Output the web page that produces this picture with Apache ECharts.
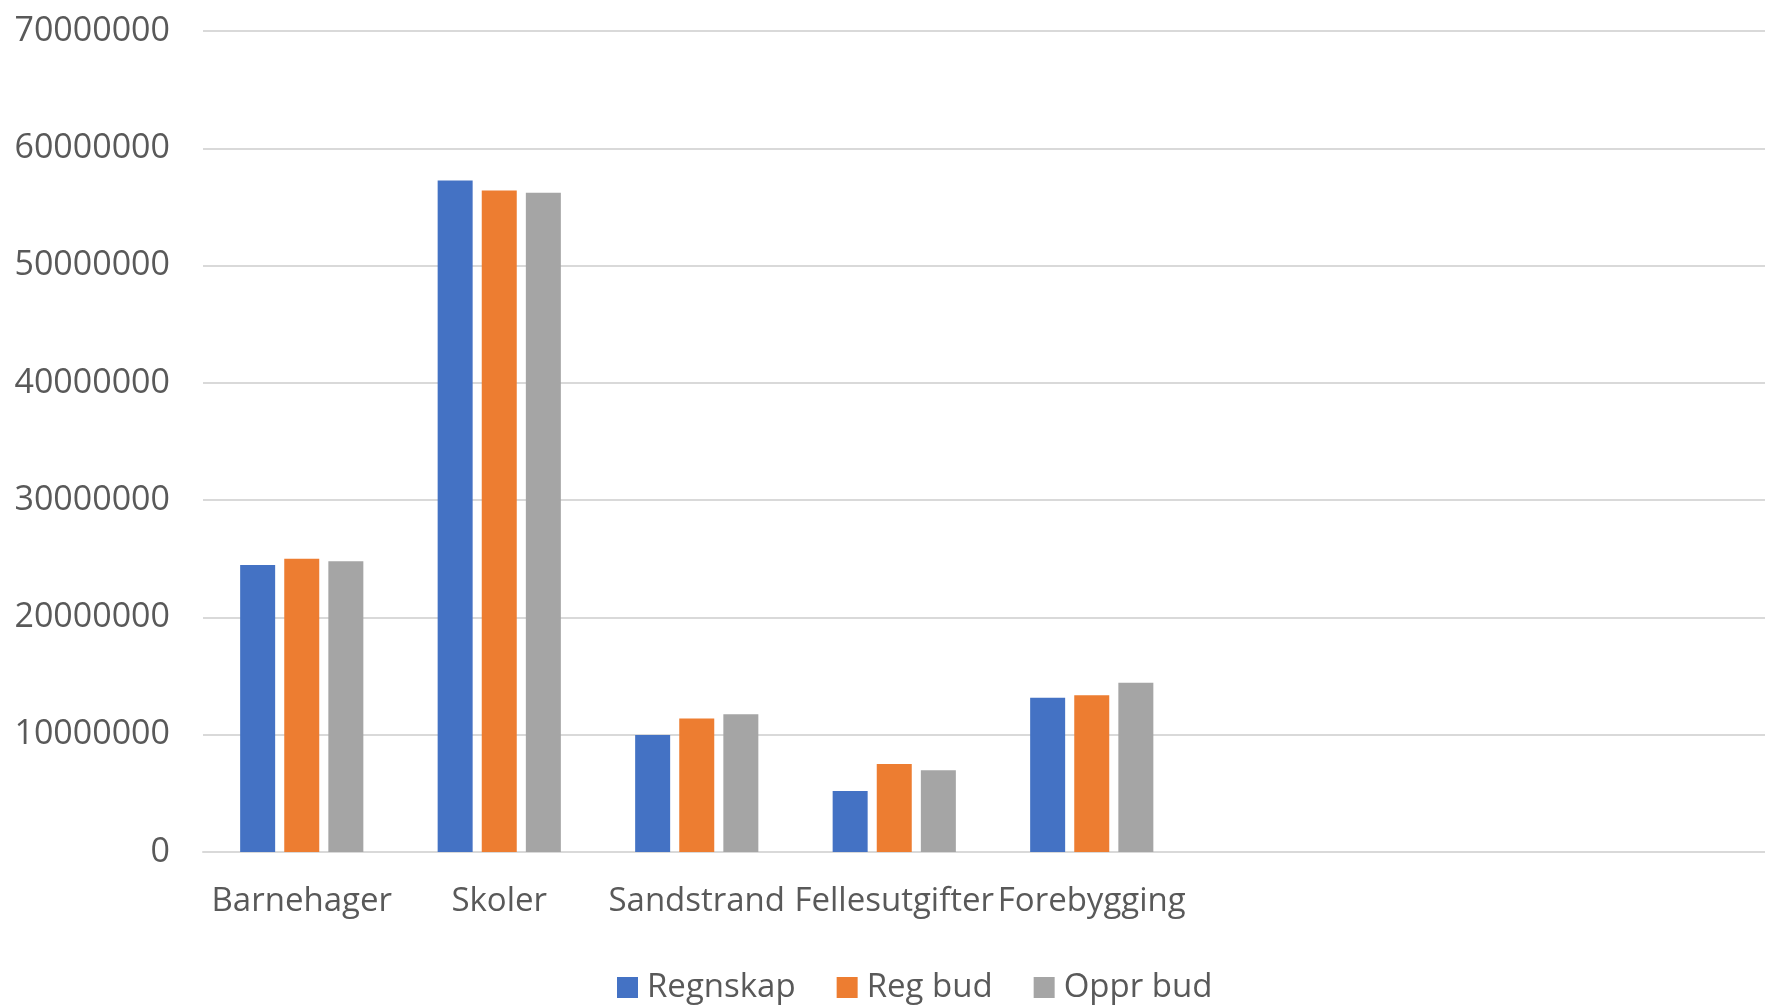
<!DOCTYPE html>
<html>
<head>
<meta charset="utf-8">
<script src="https://cdn.jsdelivr.net/npm/echarts@6/dist/echarts.min.js"></script>
<style>
  html, body { margin: 0; padding: 0; background: #ffffff; overflow: hidden; }
  #chart { width: 1765px; height: 1006px; }
</style>
</head>
<body>
<div id="chart"></div>
<script>
// Categories (the last three slots are unused columns in the sheet)
const categories = ['Barnehager', 'Skoler', 'Sandstrand', 'Fellesutgifter', 'Forebygging', '', '', ''];

// Amounts per area
const regnskap = [24470000, 57250000, 9970000, 5200000, 13160000, null, null, null];
const regBud   = [25000000, 56400000, 11380000, 7500000, 13360000, null, null, null];
const opprBud  = [24800000, 56200000, 11750000, 6980000, 14430000, null, null, null];

const seriesNames = ['Regnskap', 'Reg bud', 'Oppr bud'];
const yTicks = { min: 0, max: 70000000, interval: 10000000 };

const textColor = '#595959';
const gridColor = '#d9d9d9';
const fontFamily = '"Open Sans", "Noto Sans", sans-serif';
const fontSize = 33;

const chart = echarts.init(document.getElementById('chart'));

const barStyle = (color) => ({
  type: 'bar',
  barWidth: 35,
  barGap: '26%',
  itemStyle: { color: color },
  emphasis: { disabled: true }
});

chart.setOption({
  animation: false,
  textStyle: { fontFamily: fontFamily },
  legend: {
    left: 612,
    top: 966,
    itemWidth: 21,
    itemHeight: 21,
    itemGap: 41,
    icon: 'rect',
    textStyle: { color: textColor, fontSize: fontSize, fontFamily: fontFamily, padding: [0, 0, 0, 4] },
    data: seriesNames
  },
  grid: {
    left: 203,
    top: 31,
    width: 1580,
    bottom: 154,
    containLabel: false,
    outerBoundsMode: 'none'
  },
  xAxis: {
    type: 'category',
    data: categories,
    axisLine: { show: true, lineStyle: { color: gridColor, width: 2 } },
    axisTick: { show: false },
    axisLabel: {
      interval: 0,
      color: textColor,
      fontSize: fontSize,
      margin: 33,
      fontFamily: fontFamily
    }
  },
  yAxis: {
    type: 'value',
    min: yTicks.min,
    max: yTicks.max,
    interval: yTicks.interval,
    axisLine: { show: false },
    axisTick: { show: false },
    splitLine: { lineStyle: { color: gridColor, width: 2 } },
    axisLabel: {
      color: textColor,
      fontSize: 34,
      margin: 33,
      fontFamily: fontFamily,
      formatter: (v) => String(v)
    }
  },
  series: [
    Object.assign(barStyle('#4472c4'), { name: seriesNames[0], data: regnskap }),
    Object.assign(barStyle('#ed7d31'), { name: seriesNames[1], data: regBud }),
    Object.assign(barStyle('#a5a5a5'), { name: seriesNames[2], data: opprBud })
  ]
});
</script>
</body>
</html>
